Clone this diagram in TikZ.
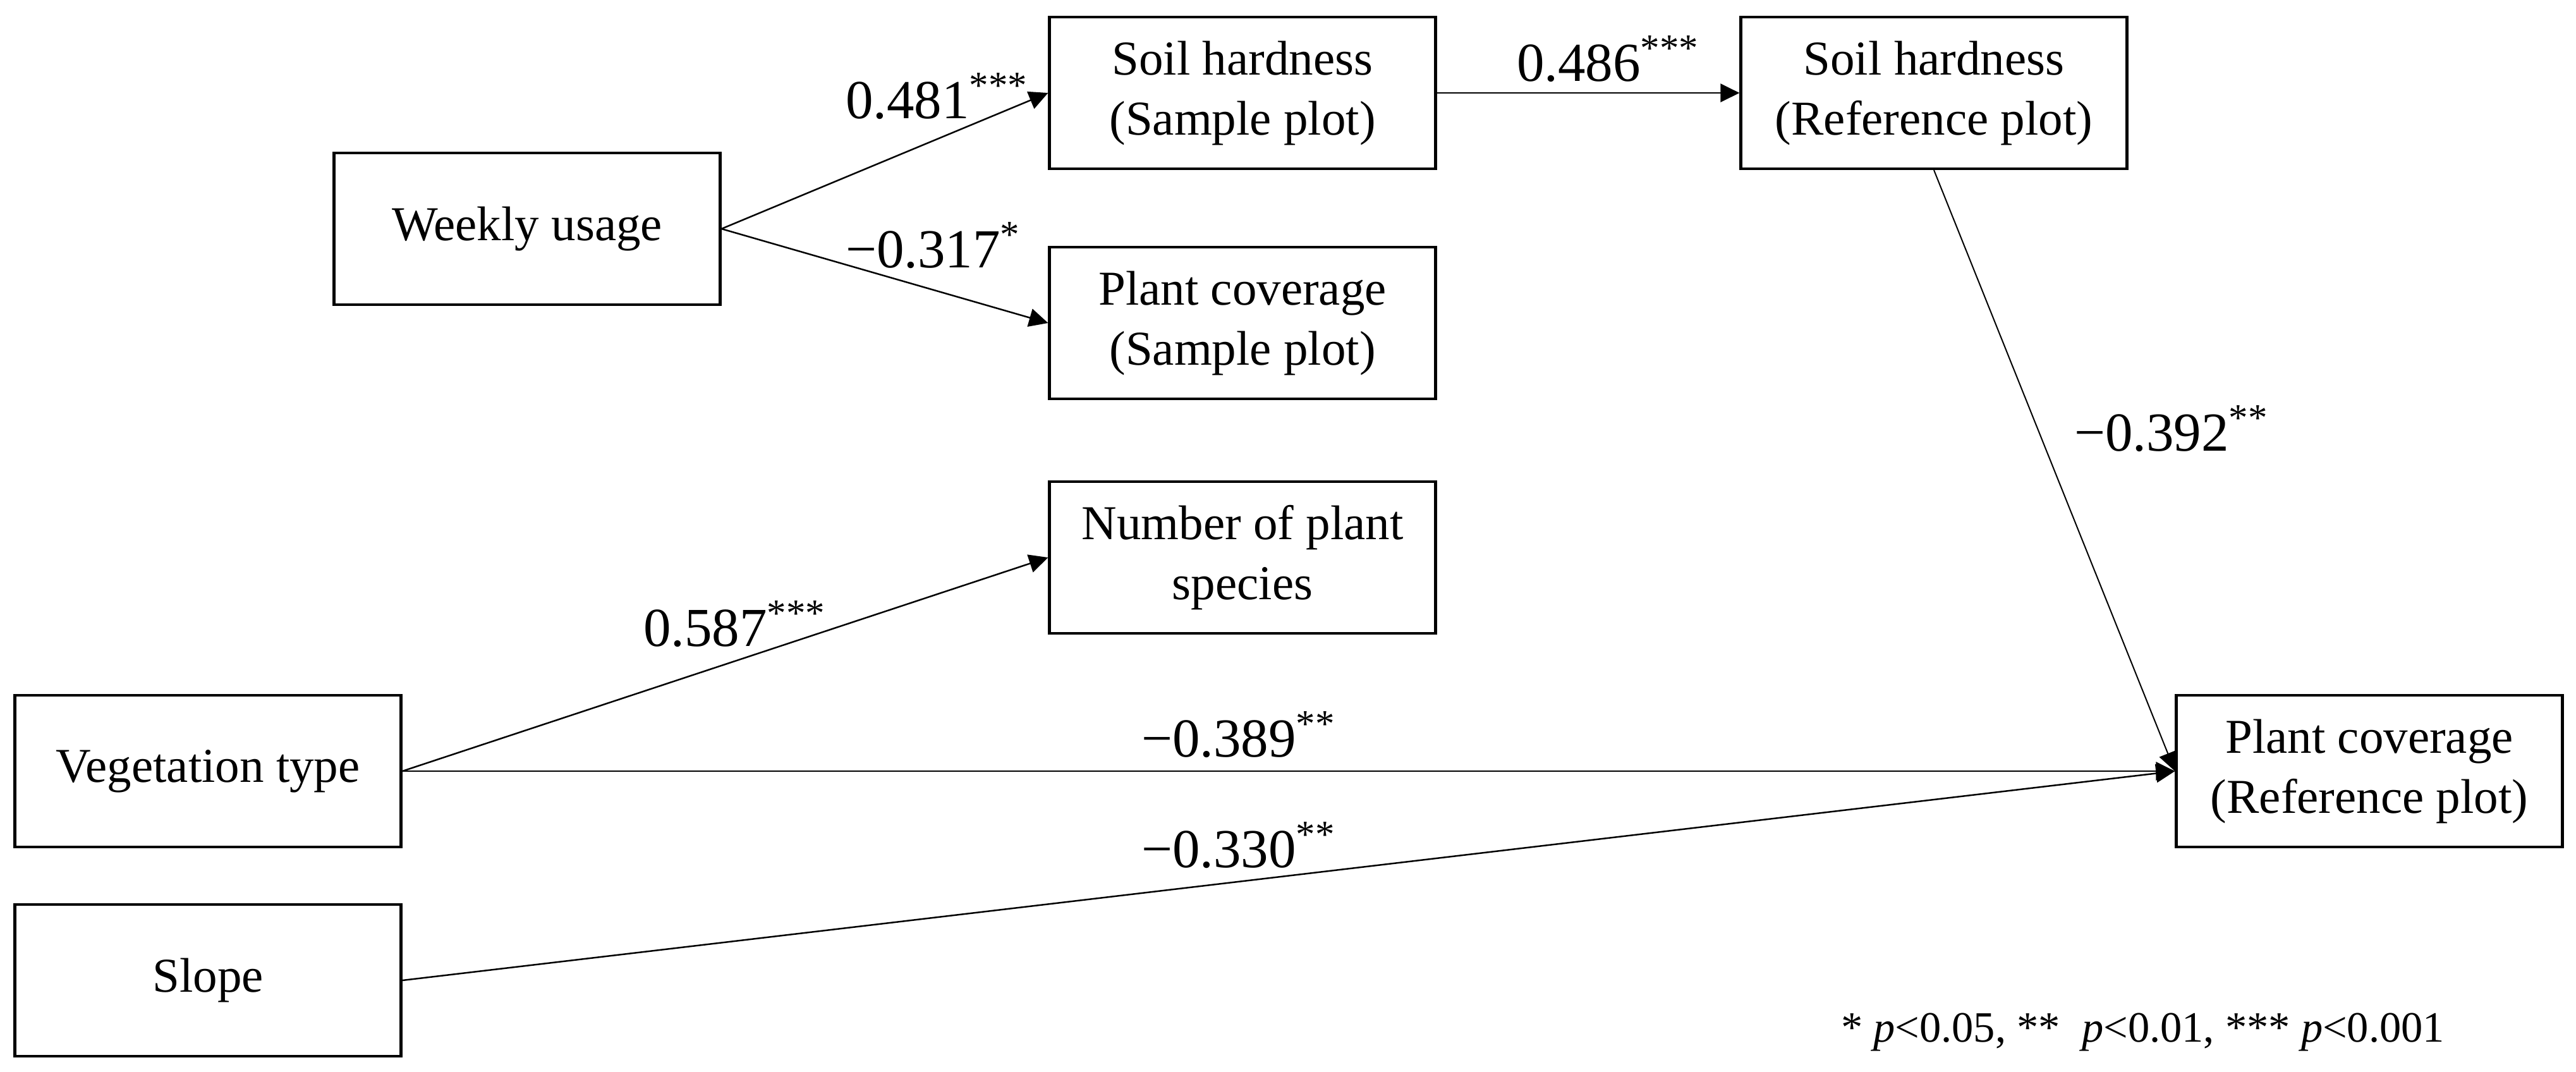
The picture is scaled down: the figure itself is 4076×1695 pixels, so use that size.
\documentclass[tikz,border=0pt]{standalone}
\usepackage{fontspec}
\setmainfont{Liberation Serif}
\usetikzlibrary{arrows.meta}
\tikzset{
  box/.style={draw, line width=0.85pt, minimum width=122.2pt, minimum height=48pt, inner sep=0pt, align=center, font=\fontsize{15.4}{19}\selectfont},
  coef/.style={anchor=base west, inner sep=0pt, font=\fontsize{17.4}{20}\selectfont},
  conn/.style={line width=0.5pt, -{Triangle[length=6pt,width=5.8pt]}},
}
\newcommand{\stars}[1]{\textsuperscript{#1}}
\begin{document}
\begin{tikzpicture}[x=0.2pt, y=-0.2pt]
\useasboundingbox (0,0) rectangle (4076,1695);
% boxes
\node[box] (wu)  at (834,362)   {Weekly usage};
\node[box] (shs) at (1966,147)  {Soil hardness\\(Sample plot)};
\node[box] (shr) at (3060,147)  {Soil hardness\\(Reference plot)};
\node[box] (pcs) at (1966,511)  {Plant coverage\\(Sample plot)};
\node[box] (nps) at (1966,882)  {Number of plant\\species};
\node[box] (vt)  at (329,1220)  {Vegetation type};
\node[box] (sl)  at (329,1551)  {Slope};
\node[box] (pcr) at (3749,1220) {Plant coverage\\(Reference plot)};
% connectors
\draw[conn] (wu.east) -- (shs.west);
\draw[conn] (wu.east) -- (pcs.west);
\draw[conn] (shs.east) -- (shr.west);
\draw[conn, line width=0.4pt] (shr.south) -- (pcr.west);
\draw[conn] (vt.east) -- (nps.west);
\draw[conn] (vt.east) -- (pcr.west);
\draw[conn] (sl.east) -- (pcr.west);
% coefficients
\node[coef] (l1) at (1337,187)  {0.481\stars{***}};
\node[coef] (l2) at (1337,423)  {−0.317\stars{*}};
\node[coef] (l3) at (2399,128)  {0.486\stars{***}};
\node[coef] (l4) at (3281,713)  {−0.392\stars{**}};
\node[coef] (l5) at (1017,1022) {0.587\stars{***}};
\node[coef] (l6) at (1805,1197) {−0.389\stars{**}};
\node[coef] (l7) at (1805,1372) {−0.330\stars{**}};
% note
\node[anchor=base west, inner sep=0pt, font=\fontsize{13.7}{16}\selectfont] (note) at (2912,1648)
  {* \textit{p}<0.05, **\ \ \textit{p}<0.01, *** \textit{p}<0.001};
\end{tikzpicture}
\end{document}
